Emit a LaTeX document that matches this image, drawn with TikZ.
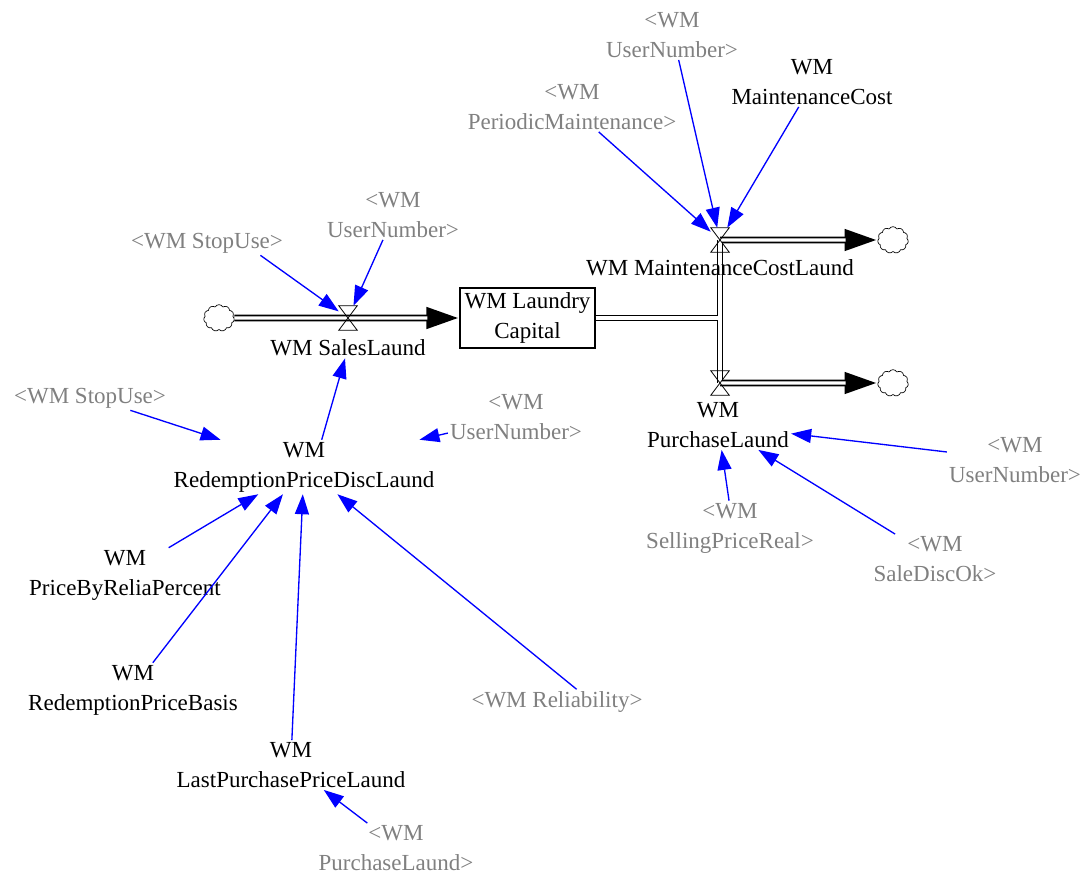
\documentclass[tikz,border=0pt]{standalone}
\usepackage{fontspec}
\setmainfont{Liberation Serif}
\usetikzlibrary{arrows.meta,shapes.symbols}
\definecolor{vgray}{RGB}{128,128,128}
\definecolor{vblue}{RGB}{0,0,255}
\begin{document}
\begin{tikzpicture}[x=0.75pt,y=-0.75pt,
  txt/.style={font=\fontsize{17.25}{22.5}\selectfont, align=center, inner sep=1.5pt, text=black},
  txtg/.style={txt, text=vgray},
  stockbox/.style={draw, line width=0.8pt, minimum width=101.25pt, minimum height=45pt, inner sep=0pt, font=\fontsize{17.25}{22.5}\selectfont, align=center},
  valvebox/.style={inner sep=0pt, minimum width=13.5pt, minimum height=18pt},
  cloudbox/.style={cloud, draw, line width=0.5pt, cloud puffs=11, cloud puff arc=120, aspect=1.1, minimum width=23pt, minimum height=20pt, inner sep=0pt},
  pipeo/.style={draw=black, line width=5.2pt},
  pipei/.style={draw=white, line width=2.6pt},
  pipetip/.style={-{Triangle[length=24.75pt,width=15pt]}},
  link/.style={draw=vblue, line width=1pt, -{Triangle[length=15pt,width=10.5pt]}}
]
\useasboundingbox (0,0) rectangle (1083,874);

% stock, valves, clouds
\node[stockbox] (st) at (527.5,318) {WM Laundry\\Capital};
\node[valvebox] (vS) at (348,318) {};
\node[valvebox] (vM) at (720,240) {};
\node[valvebox] (vP) at (720,383) {};
\node[cloudbox] (cL) at (219,318) {};
\node[cloudbox] (cM) at (893,240) {};
\node[cloudbox] (cP) at (893,383) {};

% pipes: outer black
\draw[pipeo, pipetip] (cL.east) -- (st.west);
\draw[pipeo] (st.east) -- (vM |- st.east);
\draw[pipeo] (vM.center) -- (vP.center);
\draw[pipeo, pipetip] (vM.center) -- (cM.west);
\draw[pipeo, pipetip] (vP.center) -- (cP.west);
% pipes: inner white
\draw[pipei, shorten >=24pt] (cL.east) -- (st.west);
\draw[pipei] (st.east) -- (vM |- st.east);
\draw[pipei] (vM.center) -- (vP.center);
\draw[pipei, shorten >=24pt] (vM.center) -- (cM.west);
\draw[pipei, shorten >=24pt] (vP.center) -- (cP.west);

% valve glyphs
\foreach \v in {vS,vM,vP}
  \draw[line width=0.6pt] (\v.north west) -- (\v.north east) -- (\v.south west) -- (\v.south east) -- cycle;

% labels and variables
\node[txt] (lS) at (348,348) {WM SalesLaund};
\node[txt] (lM) at (720,268) {WM MaintenanceCostLaund};
\node[txt] (lP) at (718,425) {WM\\PurchaseLaund};
\node[txtg] (un1) at (672,35) {<WM\\UserNumber>};
\node[txtg] (pm) at (572,107) {<WM\\PeriodicMaintenance>};
\node[txt] (mc) at (812,82) {WM\\MaintenanceCost};
\node[txtg] (un2) at (393,215) {<WM\\UserNumber>};
\node[txtg] (su1) at (207,243) {<WM StopUse>};
\node[txtg] (su2) at (90,398) {<WM StopUse>};
\node[txtg] (un3) at (516,417) {<WM\\UserNumber>};
\node[txt] (rp) at (304,467) {WM\\RedemptionPriceDiscLaund};
\node[txtg] (un4) at (1015,460) {<WM\\UserNumber>};
\node[txtg] (sp) at (730,528) {<WM\\SellingPriceReal>};
\node[txtg] (sd) at (935,559) {<WM\\SaleDiscOk>};
\node[txt] (pr) at (125,575) {WM\\PriceByReliaPercent};
\node[txt] (rb) at (133,690) {WM\\RedemptionPriceBasis};
\node[txtg] (rel) at (557,702) {<WM Reliability>};
\node[txt] (lp) at (291,765) {WM\\LastPurchasePriceLaund};
\node[txtg] (pl2) at (396,848) {<WM\\PurchaseLaund>};

% links
\draw[link] (un1.-75) -- (vM);
\draw[link] (pm.-43) -- (vM);
\draw[link] (mc.-118) -- (vM);
\draw[link] (su1.-13) -- (vS);
\draw[link] (un2.-112) -- (vS);
\draw[link] (rp.57) -- (lS);
\draw[link] (su2.-17) -- (rp);
\draw[link] (un3) -- (rp);
\draw[link] (pr.32) -- (rp);
\draw[link] (rb.54) -- (rp);
\draw[link] (lp.88) -- (rp);
\draw[link] (rel.33) -- (rp);
\draw[link] (pl2.139) -- (lp);
\draw[link] (un4) -- (lP);
\draw[link] (sp.92) -- (lP);
\draw[link] (sd.148) -- (lP);
\end{tikzpicture}
\end{document}
